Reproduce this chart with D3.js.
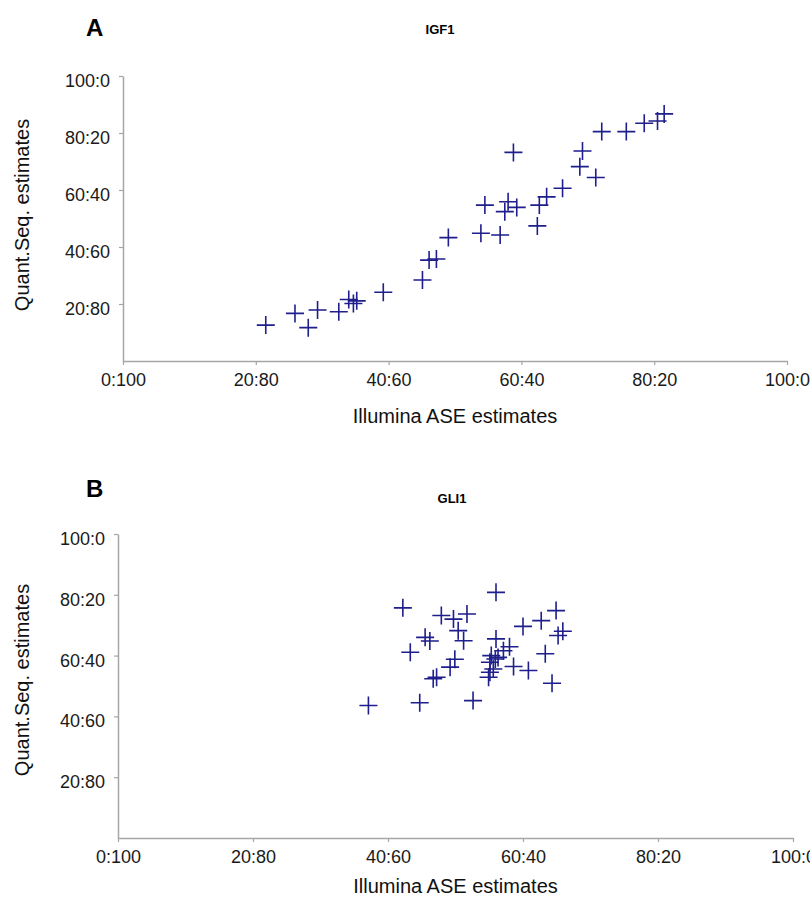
<!DOCTYPE html>
<html>
<head>
<meta charset="utf-8">
<script src="https://cdn.jsdelivr.net/npm/d3@7"></script>
<style>
  body { margin: 0; background: #fff; }
  svg { display: block; }
  .tick text { font-family: "Liberation Sans", Arial, sans-serif; font-size: 18px; fill: #1a1a1a; }
  .axis-title { font-family: "Liberation Sans", Arial, sans-serif; font-size: 20px; fill: #111; }
  .panel-letter { font-family: "Liberation Sans", Arial, sans-serif; font-size: 24px; font-weight: bold; }
  .gene-title { font-family: "Liberation Sans", Arial, sans-serif; font-size: 13px; font-weight: bold; }
</style>
</head>
<body>
<svg id="chart" width="810" height="902"></svg>
<script>
// allele ratio ticks (percent of first allele)
const ratioTicks = [0, 20, 40, 60, 80, 100];

// panel A: IGF1
const igf1Illumina = [21.5, 25.9, 27.9, 29.3, 32.5, 34.0, 34.7, 35.2, 39.2, 45.1, 46.1, 47.2, 49.0,
  53.9, 56.8, 54.5, 58.0, 57.5, 59.3, 58.8, 62.4, 62.7, 63.8, 66.2, 68.8, 69.2, 71.2, 72.1, 75.8, 78.5, 80.5, 81.5];
const igf1QuantSeq = [12.6, 16.7, 11.7, 17.9, 17.3, 21.6, 20.2, 21.1, 24.1, 28.4, 35.4, 35.8, 43.3,
  44.8, 44.2, 54.7, 55.9, 52.4, 53.9, 73.2, 47.4, 54.7, 57.6, 60.6, 68.2, 73.7, 64.4, 80.5, 80.5, 83.4, 84.2, 86.7];

// panel B: GLI1
const gli1Illumina = [37.1, 44.7, 52.6, 42.2, 47.9, 49.7, 51.7, 50.4, 51.2, 45.5, 46.2, 43.3, 49.9, 49.2, 46.7, 47.2,
  56.0, 56.0, 58.0, 57.1, 55.3, 55.9, 56.3, 55.1, 55.6, 55.1, 54.9, 58.6, 60.8, 60.0, 62.7, 64.9, 65.9, 65.2, 63.3, 64.3];
const gli1QuantSeq = [43.6, 44.5, 45.2, 75.7, 73.2, 72.0, 73.7, 68.2, 64.9, 66.0, 64.8, 61.1, 58.8, 56.2, 52.4, 52.9,
  80.8, 65.5, 62.9, 61.6, 60.0, 58.9, 59.4, 57.8, 55.6, 54.5, 52.9, 56.4, 55.1, 69.6, 71.5, 74.8, 68.0, 66.6, 60.6, 50.9];

const svg = d3.select("#chart");
const ratioFormat = (d) => `${d}:${100 - d}`;

/* draw one scatter panel */
function drawPanel(cfg) {
  const x = d3.scaleLinear().domain([0, 100]).range([cfg.left, cfg.right]);
  const y = d3.scaleLinear().domain([0, 100]).range([cfg.bottom, cfg.top]);
  const g = svg.append("g");

  const xAxis = g.append("g")
    .attr("transform", `translate(0,${cfg.bottom})`)
    .call(d3.axisBottom(x).tickValues(ratioTicks).tickFormat(ratioFormat).tickSize(4).tickSizeOuter(0).tickPadding(8));
  const yAxis = g.append("g")
    .attr("transform", `translate(${cfg.left},0)`)
    .call(d3.axisLeft(y).tickValues(ratioTicks.slice(1)).tickFormat(ratioFormat).tickSize(4).tickSizeOuter(0).tickPadding(9));
  yAxis.selectAll(".tick text").attr("dy", "0.58em");
  [xAxis, yAxis].forEach((a) => {
    a.select(".domain").attr("stroke", "#a6a6a6").attr("stroke-width", 1.5);
    a.selectAll(".tick line").attr("stroke", "#a6a6a6").attr("stroke-width", 1.2);
  });

  // plus markers
  const pts = cfg.xs.map((v, i) => [v, cfg.ys[i]]);
  g.append("g")
    .selectAll("path")
    .data(pts)
    .join("path")
    .attr("transform", (d) => `translate(${x(d[0])},${y(d[1])})`)
    .attr("d", "M-9,0H9M0,-9V9")
    .attr("stroke", "#1e1e8c")
    .attr("stroke-width", 1.6)
    .attr("fill", "none");

  g.append("text").attr("class", "panel-letter")
    .attr("x", cfg.letterX).attr("y", cfg.letterY).text(cfg.letter);
  g.append("text").attr("class", "gene-title")
    .attr("x", cfg.geneX).attr("y", cfg.geneY).attr("text-anchor", "middle").text(cfg.gene);
  g.append("text").attr("class", "axis-title")
    .attr("x", (cfg.left + cfg.right) / 2).attr("y", cfg.xTitleY)
    .attr("text-anchor", "middle").text("Illumina ASE estimates");
  g.append("text").attr("class", "axis-title")
    .attr("transform", `translate(29,${cfg.yTitleY}) rotate(-90)`)
    .attr("text-anchor", "middle").text("Quant.Seq. estimates");
}

drawPanel({
  left: 123, right: 787, top: 76, bottom: 361,
  xs: igf1Illumina, ys: igf1QuantSeq,
  letter: "A", letterX: 86, letterY: 36,
  gene: "IGF1", geneX: 440, geneY: 34,
  xTitleY: 423, yTitleY: 215
});

drawPanel({
  left: 118, right: 793, top: 534, bottom: 838,
  xs: gli1Illumina, ys: gli1QuantSeq,
  letter: "B", letterX: 86, letterY: 497,
  gene: "GLI1", geneX: 452, geneY: 503,
  xTitleY: 893, yTitleY: 680
});
</script>
</body>
</html>
